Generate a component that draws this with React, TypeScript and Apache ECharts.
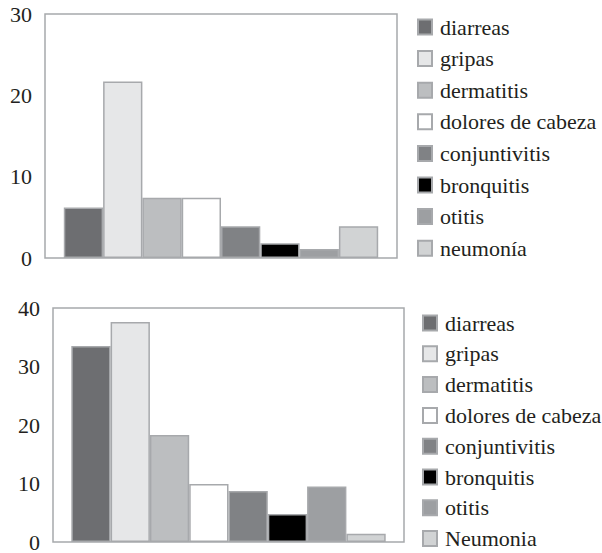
import React, { useEffect, useRef } from "react";
import * as echarts from "echarts";

const categoriesTop = ["diarreas", "gripas", "dermatitis", "dolores de cabeza", "conjuntivitis", "bronquitis", "otitis", "neumonía"];
const categoriesBottom = ["diarreas", "gripas", "dermatitis", "dolores de cabeza", "conjuntivitis", "bronquitis", "otitis", "Neumonia"];
const valuesTop = [6.2, 21.7, 7.4, 7.4, 3.9, 1.8, 1.1, 3.9];
const valuesBottom = [33.5, 37.6, 18.3, 9.9, 8.7, 4.8, 9.5, 1.4];
const colors = ["#6d6e71", "#e6e7e8", "#bcbec0", "#ffffff", "#808285", "#000000", "#9d9fa2", "#d1d3d4"];
const axisTop = { min: 0, max: 30, interval: 10 };
const axisBottom = { min: 0, max: 40, interval: 10 };

const FONT = "'Liberation Serif', 'DejaVu Serif', serif";
const TEXT = "#231f20";
const BORDER = "#a7a9ac";

export default function App() {
  const ref = useRef<HTMLDivElement>(null);
  useEffect(() => {
    document.body.style.margin = "0";
    const chart = echarts.init(ref.current!, null, { renderer: "svg" });
    const mkSeries = (names: string[], vals: number[], idx: number) =>
      names.map((n, i) => ({
        type: "bar",
        name: n,
        xAxisIndex: idx,
        yAxisIndex: idx,
        data: [vals[i]],
        barWidth: 39.3,
        barGap: "0%",
        itemStyle: { color: colors[i], borderColor: BORDER, borderWidth: 1.5 },
      }));
    const yAx = (idx: number, ax: { min: number; max: number; interval: number }) => ({
      type: "value",
      gridIndex: idx,
      min: ax.min,
      max: ax.max,
      interval: ax.interval,
      axisLine: { show: false },
      axisTick: { show: false },
      splitLine: { show: false },
      axisLabel: { fontFamily: FONT, fontSize: 22, color: TEXT, margin: 13 },
    });
    const xAx = (idx: number) => ({
      type: "category",
      gridIndex: idx,
      data: [""],
      axisLine: { show: false },
      axisTick: { show: false },
      axisLabel: { show: false },
    });
    const legend = (names: string[], left: number, top: number, gap: number) => ({
      orient: "vertical",
      left,
      top,
      height: 280,
      padding: 0,
      data: names,
      icon: "rect",
      itemWidth: 14,
      itemHeight: 15,
      itemGap: gap,
      selectedMode: false,
      textStyle: { fontFamily: FONT, fontSize: 22, color: TEXT, padding: [0, 0, 0, 3] },
    });
    chart.setOption({
      animation: false,
      grid: [
        { left: 45, top: 14, width: 352, height: 244, show: true, borderColor: BORDER, borderWidth: 1.5, backgroundColor: "transparent" },
        { left: 53, top: 308, width: 351, height: 243, show: true, borderColor: BORDER, borderWidth: 1.5, backgroundColor: "transparent" },
      ],
      xAxis: [xAx(0), xAx(1)],
      yAxis: [yAx(0, axisTop), yAx(1, axisBottom)],
      legend: [legend(categoriesTop, 417, 16, 9.6), legend(categoriesBottom, 422, 312, 8.8)],
      series: [...mkSeries(categoriesTop, valuesTop, 0), ...mkSeries(categoriesBottom, valuesBottom, 1)],
    });
    return () => chart.dispose();
  }, []);
  return <div ref={ref} style={{ width: 602, height: 553 }} />;
}
